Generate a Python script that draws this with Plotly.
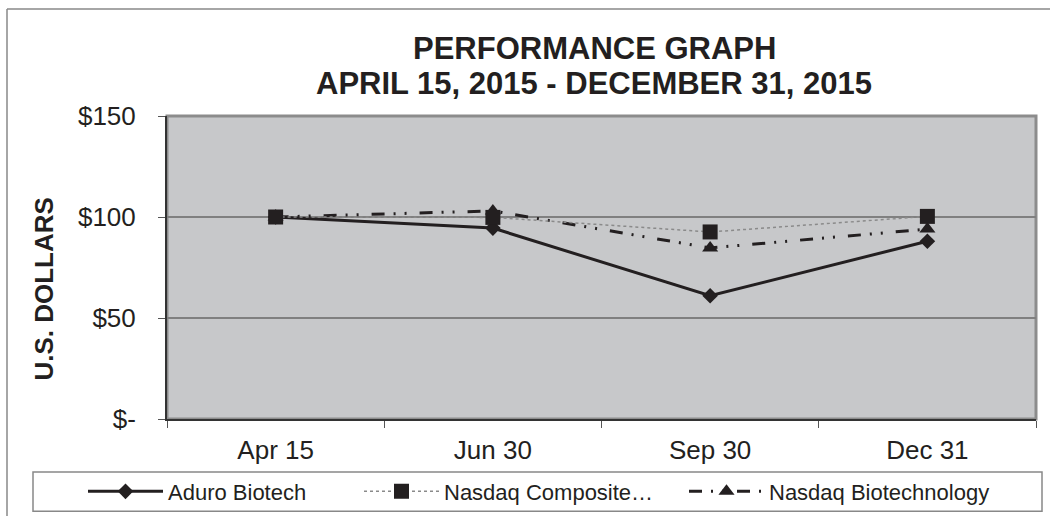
import plotly.graph_objects as go

categories = ["Apr 15", "Jun 30", "Sep 30", "Dec 31"]
aduro = [100, 94.5, 61, 88]
nasdaq_comp = [100, 99.8, 92.6, 100.3]
nasdaq_bio = [100, 103, 84.7, 94]
ytick_vals = [0, 50, 100, 150]
ytick_text = ["$-", "$50", "$100", "$150"]
title_lines = ["PERFORMANCE GRAPH", "APRIL 15, 2015 - DECEMBER 31, 2015"]
ytitle = "U.S. DOLLARS"

INK = "#231f20"
FONT = "Liberation Sans, Arial, sans-serif"

fig = go.Figure()
fig.add_trace(go.Scatter(
    x=categories, y=aduro, name="Aduro Biotech", mode="lines+markers",
    line=dict(color=INK, width=3),
    marker=dict(symbol="diamond", size=12, color=INK), legend="legend"))
fig.add_trace(go.Scatter(
    x=categories, y=nasdaq_bio, name="Nasdaq Biotechnology", mode="lines+markers",
    line=dict(color=INK, width=3, dash="13px,9px,2px,9px,2px,13px"),
    marker=dict(symbol="triangle-up", size=14, color=INK), legend="legend3"))
fig.add_trace(go.Scatter(
    x=categories, y=nasdaq_comp, name="Nasdaq Composite…", mode="lines+markers",
    line=dict(color="#8a8a8a", width=1.5, dash="dot"),
    marker=dict(symbol="square", size=15, color=INK), legend="legend2"))

W, H = 1050, 524
L, R, T, B = 167, 14, 116, 99
PW, PH = W - L - R, H - T - B

def px(x):
    return (x - L) / PW

def py(y):
    return (H - B - y) / PH

def leg(x0):
    return dict(orientation="h", x=px(x0), xanchor="left", y=py(499), yanchor="middle",
                font=dict(size=22, color=INK), bgcolor="rgba(0,0,0,0)",
                itemwidth=75, borderwidth=0)

fig.update_layout(
    width=W, height=H,
    margin=dict(l=L, r=R, t=T, b=B),
    paper_bgcolor="white", plot_bgcolor="#c7c8ca",
    font=dict(family=FONT, color=INK),
    showlegend=True,
    legend=leg(83), legend2=leg(359), legend3=leg(684),
    xaxis=dict(type="category", tickson="boundaries", ticks="outside", ticklen=7,
               tickcolor="#555", showgrid=False, showline=True, linecolor="#333",
               linewidth=2, tickfont=dict(size=26, color=INK), ticklabelstandoff=7,
               range=[-0.5, 3.5], fixedrange=True),
    yaxis=dict(range=[0, 150], tickvals=ytick_vals, ticktext=ytick_text,
               ticks="outside", ticklen=7, tickcolor="#555",
               showgrid=True, gridcolor="#808080", gridwidth=2,
               showline=True, linecolor="#333", linewidth=2, zeroline=False,
               tickfont=dict(size=26, color=INK), ticklabelstandoff=17, fixedrange=True),
    shapes=[
        dict(type="rect", xref="paper", yref="paper", x0=0, x1=1, y0=0, y1=1,
             line=dict(color="#8c8c8c", width=3), layer="below"),
        dict(type="line", xref="paper", yref="paper", x0=px(7), x1=px(1050), y0=py(7), y1=py(7),
             line=dict(color="#888", width=1.5)),
        dict(type="line", xref="paper", yref="paper", x0=px(7), x1=px(7), y0=py(7), y1=py(524),
             line=dict(color="#888", width=1.5)),
        dict(type="rect", xref="paper", yref="paper", x0=px(33), x1=px(1042), y0=py(519), y1=py(479),
             line=dict(color="#888", width=1.5), fillcolor="white", layer="below"),
    ],
    annotations=[
        dict(text=title_lines[0], xref="paper", yref="paper", x=px(594), y=py(47),
             xanchor="center", yanchor="middle", showarrow=False,
             font=dict(size=31, color=INK, family=FONT, weight="bold")),
        dict(text=title_lines[1], xref="paper", yref="paper", x=px(594), y=py(83),
             xanchor="center", yanchor="middle", showarrow=False,
             font=dict(size=31, color=INK, family=FONT, weight="bold")),
        dict(text=ytitle, xref="paper", yref="paper", x=px(44), y=py(293),
             xanchor="center", yanchor="middle", showarrow=False, textangle=-90,
             font=dict(size=26, color=INK, family=FONT, weight="bold")),
    ],
)

fig.write_html("out.html", config={"displayModeBar": False},
               post_script="document.body.style.margin='0';document.body.style.overflow='hidden';")
